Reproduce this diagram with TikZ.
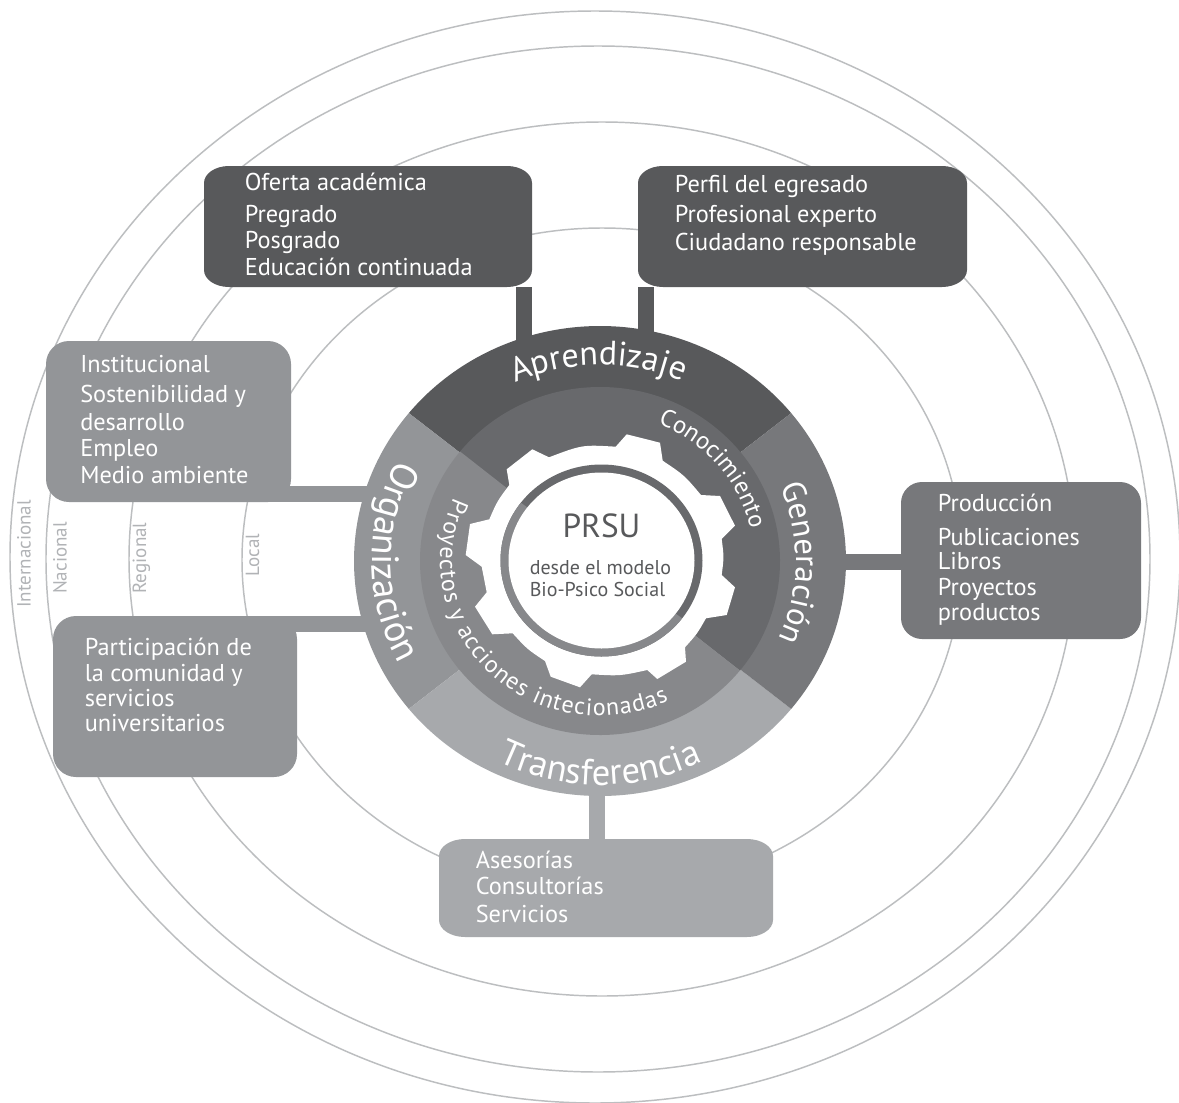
\documentclass[tikz,border=0pt]{standalone}
\usepackage{fontspec}
\setmainfont{PT Sans}
\usetikzlibrary{decorations.text,shapes.geometric,calc}
\definecolor{cLine}{HTML}{BCBEC0}
\definecolor{cLab}{HTML}{B1B3B6}
\definecolor{cApr}{HTML}{58595B}
\definecolor{cGen}{HTML}{77787B}
\definecolor{cOrg}{HTML}{939598}
\definecolor{cTra}{HTML}{A7A9AC}
\definecolor{cCon}{HTML}{68696C}
\definecolor{cPro}{HTML}{87888B}
\tikzset{
  orbit/.style={draw=cLine,line width=1.1pt},
  levellabel/.style={rotate=90,anchor=base,text=cLab,inner sep=0pt,font=\fontsize{14.3}{16}\selectfont},
  boxtext/.style={anchor=base west,inner sep=0pt,text=white},
  conn/.style={line width=12pt},
}
% name x1 y1 x2 y2 rx ry colour
\newcommand\softbox[8]{%
  \fill[#8] (#2+#6,#3) -- (#4-#6,#3) arc[start angle=-90,end angle=0,x radius=#6,y radius=#7]
    -- (#4,#5-#7) arc[start angle=0,end angle=90,x radius=#6,y radius=#7]
    -- (#2+#6,#5) arc[start angle=90,end angle=180,x radius=#6,y radius=#7]
    -- (#2,#3+#7) arc[start angle=180,end angle=270,x radius=#6,y radius=#7] -- cycle;
  \node[inner sep=0pt,minimum width={(#4-#2)*0.75pt},minimum height={(#5-#3)*0.75pt}] (#1) at ({(#2+#4)/2},{(#3+#5)/2}) {};
}
% width(pt) lines
\newcommand\linesbox[2]{\parbox[t]{#1pt}{\fontsize{18.25}{0}\selectfont\lineskiplimit=-100pt\raggedright #2}}
% rx ry startangle endangle size text
\newcommand\curved[6]{%
  \path[decorate,decoration={text along path,text align=center,
     text={|\fontsize{#5}{0}\selectfont\color{white}|#6}}]
     ([shift={({-(#3)}:#1 and #2)}]c) arc[start angle={-(#3)},end angle={-(#4)},x radius=#1,y radius=#2];
}
\newcommand\curvedfit[6]{%
  \path[decorate,decoration={text along path,text align=fit to path,
     text={|\fontsize{#5}{0}\selectfont\color{white}|#6}}]
     ([shift={({-(#3)}:#1 and #2)}]c) arc[start angle={-(#3)},end angle={-(#4)},x radius=#1,y radius=#2];
}
\begin{document}
\begin{tikzpicture}[x=0.75pt,y=-0.75pt]
\useasboundingbox (0,0) rectangle (1179,1103);
\fill[white] (0,0) rectangle (1179,1103);
\coordinate (c) at (600,561);
% orbits
\draw[orbit] (595,557) ellipse [x radius=585,y radius=546];
\draw[orbit] (598,559) ellipse [x radius=552,y radius=513];
\draw[orbit] (602,559) ellipse [x radius=473,y radius=437];
\draw[orbit] (602,560) ellipse [x radius=360,y radius=332];
% level labels
\node[levellabel] (lInt) at (30.5,554) {Internacional};
\node[levellabel] (lNac) at (66.5,558) {Nacional};
\node[levellabel] (lReg) at (146,558) {Regional};
\node[levellabel] (lLoc) at (259,555) {Local};
% disc reference node
\node[ellipse,inner sep=0pt,minimum width=369pt,minimum height=352.5pt] (disc) at (c) {};
% boxes
\softbox{oferta}{204}{166}{532}{287}{25}{17}{cApr}
\softbox{perfil}{638}{166}{967}{287}{25}{17}{cApr}
\softbox{inst}{46}{341}{291}{502}{23}{23}{cOrg}
\softbox{part}{53}{616}{297}{777}{23}{23}{cOrg}
\softbox{prod}{901}{482}{1141}{639}{21}{21}{cGen}
\softbox{ases}{439}{839}{773}{937}{26}{17}{cTra}
% connectors
\draw[conn,cApr] ([xshift=-6pt]oferta.south east) -- ([xshift=-6pt]oferta.south east |- disc.center);
\draw[conn,cApr] ([xshift=6pt]perfil.south west) -- ([xshift=6pt]perfil.south west |- disc.center);
\draw[conn,cOrg] ([yshift=6pt]inst.south) -- ([yshift=6pt]inst.south -| disc.center);
\draw[conn,cOrg] ([yshift=-6pt]part.north) -- ([yshift=-6pt]part.north -| disc.center);
\draw[conn,cGen] ([yshift=-0.8pt]prod.center) -- ([yshift=-0.8pt]prod.center -| disc.center);
\draw[conn,cTra] ([xshift=-6.75pt]ases.north) -- ([xshift=-6.75pt]ases.north |- disc.center);
% outer sectors
\fill[cApr] (c) -- ([shift={(-39:246 and 235)}]c) arc[start angle=-39,end angle=-141,x radius=246,y radius=235] -- cycle;
\fill[cOrg] (c) -- ([shift={(-141:246 and 235)}]c) arc[start angle=-141,end angle=-219,x radius=246,y radius=235] -- cycle;
\fill[cTra] (c) -- ([shift={(-219:246 and 235)}]c) arc[start angle=-219,end angle=-321,x radius=246,y radius=235] -- cycle;
\fill[cGen] (c) -- ([shift={(39:246 and 235)}]c) arc[start angle=39,end angle=-39,x radius=246,y radius=235] -- cycle;
% inner band
\fill[cCon] (c) -- ([shift={(-141:180 and 174)}]c) arc[start angle=-141,end angle=39,x radius=180,y radius=174] -- cycle;
\fill[cPro] (c) -- ([shift={(39:180 and 174)}]c) arc[start angle=39,end angle=219,x radius=180,y radius=174] -- cycle;
% gear
\fill[white] (549,457.3) .. controls (582.3,444.7) .. (615.7,446.7) -- (626.7,434.3) -- (660,442.7) -- (662.7,460.7)
  .. controls (684.4,475.3) .. (701,495) -- (720,496) -- (735,525.7) -- (721.7,539)
  .. controls (724,557) .. (721.7,575) -- (735,587.3) -- (726.7,615) -- (706,618.3)
  .. controls (697,634) .. (685,647.3) -- (686,661.7) -- (657.3,679) -- (647.3,670)
  .. controls (620,676) .. (591.7,674.3) -- (580,687.3) -- (550.7,676.7) -- (545,661)
  .. controls (527.2,649.2) .. (512.7,633.3) -- (492.3,634.3) -- (475,606.7) -- (486.7,592.3)
  -- (481.7,566.7) -- (465.7,555) -- (470,524) -- (489.3,519.3)
  .. controls (497.3,501) .. (509.3,485) -- (506.7,469.3) -- (532.3,449.3) -- cycle;
% central ring
\coordinate (rc) at (601.5,560.5);
\fill[cCon] (rc) ellipse [x radius=101,y radius=96];
\fill[cPro] (rc) -- ([shift={(-143:101 and 96)}]rc) arc[start angle=-143,end angle=-323,x radius=101,y radius=96] -- cycle;
\fill[white] (rc) ellipse [x radius=93,y radius=88];
% central text
\node[anchor=base,inner sep=0pt,text=cApr,font=\fontsize{25}{27}\selectfont] (prsu) at (601.5,537) {PRSU};
\node[anchor=base west,inner sep=0pt,text=cApr] (model) at (529.5,574) {\parbox[t]{112pt}{\fontsize{15}{0}\selectfont\lineskiplimit=-100pt\raggedright desde el modelo\\[17pt]Bio-Psico Social}};
% curved titles
\curved{207}{196}{130.4}{50.4}{25.5}{Aprendizaje}
\curved{196}{189}{35}{-36.4}{24.5}{Generación}
\curved{228}{218}{140}{220.6}{28.5}{Organización}
\curved{230}{224}{230}{310}{27.5}{Transferencia}
\curved{154}{148}{78}{2}{18.5}{Conocimiento}
\curvedfit{160}{155}{156}{295.5}{18}{Proyectos y acciones intecionadas}
% box texts
\node[boxtext] (tOferta) at (244.5,190) {\linesbox{190}{Oferta académica\\[24pt]Pregrado\\[20pt]Posgrado\\[20pt]Educación continuada}};
\node[boxtext] (tPerfil) at (674.5,192) {\linesbox{200}{Perfil del egresado\\[23pt]Profesional experto\\[21pt]Ciudadano responsable}};
\node[boxtext] (tInst) at (80,372) {\linesbox{140}{Institucional\\[23pt]Sostenibilidad y\\[21pt]desarrollo\\[19.5pt]Empleo\\[20pt]Medio ambiente}};
\node[boxtext] (tPart) at (84.5,655) {\linesbox{140}{Participación de\\[19.5pt]la comunidad y\\[19pt]servicios\\[19pt]universitarios}};
\node[boxtext] (tProd) at (937.5,511) {\linesbox{125}{Producción\\[25.5pt]Publicaciones\\[18pt]Libros\\[19.5pt]Proyectos\\[19pt]productos}};
\node[boxtext] (tAses) at (475.5,868) {\linesbox{110}{Asesorías\\[20pt]Consultorías\\[21pt]Servicios}};
\end{tikzpicture}
\end{document}
